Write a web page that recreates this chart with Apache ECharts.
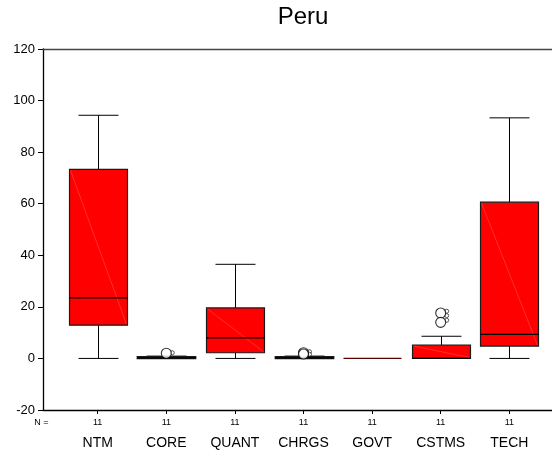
<!DOCTYPE html>
<html>
<head>
<meta charset="utf-8">
<script src="https://cdn.jsdelivr.net/npm/echarts@6/dist/echarts.min.js"></script>
<style>html,body{margin:0;padding:0;background:#fff}#c{width:552px;height:456px}</style>
</head>
<body>
<div id="c"></div>
<script>
const categories = ['NTM', 'CORE', 'QUANT', 'CHRGS', 'GOVT', 'CSTMS', 'TECH'];
const counts = [11, 11, 11, 11, 11, 11, 11];
// [min, Q1, median, Q3, max]
const boxStats = [
  [0, 12.9, 23.5, 73.3, 94.3],
  [0, 0, 0.2, 0.6, 0.9],
  [0, 2.2, 8.0, 19.6, 36.5],
  [0, 0, 0.2, 0.6, 0.9],
  [0, 0, 0, 0, 0],
  [0, 0, 0, 5.2, 8.6],
  [0, 4.8, 9.3, 60.6, 93.3]
];
// outliers: [category index, value]
const outliers = [[1, 2.0], [3, 2.2], [3, 1.7], [5, 17.6], [5, 14.0]];
// case-label marks beside outliers
const caseMarks = [[1, 2.2], [3, 2.6], [3, 1.6], [5, 18.3], [5, 16.6], [5, 14.8]];
const yTicks = {min: -20, max: 120, interval: 20};

const FONT = 'Liberation Sans, Arial, sans-serif';
const chart = echarts.init(document.getElementById('c'), null, {renderer: 'canvas'});

const boxData = boxStats.map((s, i) => [i].concat(s));

function renderBox(params, api) {
  const x = api.value(0);
  const band = api.size([1, 0])[0];
  const bw = band * 0.845, cw = band * 0.583;
  const pMin = api.coord([x, api.value(1)]);
  const pQ1 = api.coord([x, api.value(2)]);
  const pMed = api.coord([x, api.value(3)]);
  const pQ3 = api.coord([x, api.value(4)]);
  const pMax = api.coord([x, api.value(5)]);
  const cx = Math.round(pMed[0]) + 0.5;
  const lw = {stroke: '#000', lineWidth: 1};
  const children = [];
  if (pMax[1] < pQ3[1] - 0.5) {
    children.push({type: 'line', shape: {x1: cx, y1: pMax[1], x2: cx, y2: pQ3[1]}, style: lw});
    children.push({type: 'line', shape: {x1: cx - cw / 2, y1: pMax[1], x2: cx + cw / 2, y2: pMax[1]}, style: lw});
  }
  if (pMin[1] > pQ1[1] + 0.5) {
    children.push({type: 'line', shape: {x1: cx, y1: pQ1[1], x2: cx, y2: pMin[1]}, style: lw});
    children.push({type: 'line', shape: {x1: cx - cw / 2, y1: pMin[1], x2: cx + cw / 2, y2: pMin[1]}, style: lw});
  }
  const h = pQ1[1] - pQ3[1];
  if (h < 0.5) {
    children.push({type: 'line', shape: {x1: cx - bw / 2, y1: pQ1[1], x2: cx + bw / 2, y2: pQ1[1]}, style: {stroke: '#5a0000', lineWidth: 1.2}});
  } else {
    children.push({type: 'rect', shape: {x: cx - bw / 2, y: pQ3[1], width: bw, height: h},
      style: {fill: '#ff0000', stroke: '#1a1a1a', lineWidth: h < 4 ? 1.8 : 1.2}});
    if (h > 6) {
      children.push({type: 'line', shape: {x1: cx - bw / 2 + 1, y1: pQ3[1] + 1, x2: cx + bw / 2 - 1, y2: pQ1[1] - 1},
        style: {stroke: '#ff5a5a', lineWidth: 0.5}});
    }
    children.push({type: 'line', shape: {x1: cx - bw / 2, y1: pMed[1], x2: cx + bw / 2, y2: pMed[1]}, style: {stroke: '#000', lineWidth: 1.2}});
  }
  return {type: 'group', children: children};
}

const option = {
  animation: false,
  backgroundColor: '#fff',
  textStyle: {fontFamily: FONT},
  grid: [
    {left: 43, right: 0, top: 49, bottom: 46, containLabel: false},
    {left: 63.4, right: 8.4, top: 49, bottom: 46, containLabel: false}
  ],
  xAxis: [
    {gridIndex: 0, type: 'value', min: 0, max: 1, position: 'bottom',
      axisLine: {show: true, onZero: false, lineStyle: {color: '#000', width: 1.3}},
      axisTick: {show: false}, axisLabel: {show: false}, splitLine: {show: false}},
    {gridIndex: 0, type: 'value', min: 0, max: 1, position: 'top',
      axisLine: {show: true, onZero: false, lineStyle: {color: '#444', width: 1.3}},
      axisTick: {show: false}, axisLabel: {show: false}, splitLine: {show: false}},
    {gridIndex: 1, type: 'category', data: categories, boundaryGap: true, position: 'bottom',
      axisLine: {show: false, onZero: false},
      axisTick: {show: true, alignWithLabel: true, length: 4, lineStyle: {color: '#000'}},
      axisLabel: {
        margin: 7, interval: 0,
        formatter: (v, i) => '{n|' + counts[i] + '}\n{c|' + v + '}',
        rich: {
          n: {fontSize: 9, lineHeight: 12, color: '#000', fontFamily: FONT, align: 'center'},
          c: {fontSize: 14, lineHeight: 28, color: '#000', fontFamily: FONT, align: 'center'}
        }
      },
      splitLine: {show: false}}
  ],
  yAxis: [
    {gridIndex: 0, type: 'value', min: yTicks.min, max: yTicks.max, interval: yTicks.interval,
      axisLine: {show: true, onZero: false, lineStyle: {color: '#000', width: 1.3}},
      axisTick: {show: true, length: 5, lineStyle: {color: '#000'}},
      axisLabel: {margin: 8, fontSize: 13, color: '#000', fontFamily: FONT},
      splitLine: {show: false}},
    {gridIndex: 1, type: 'value', min: yTicks.min, max: yTicks.max, interval: yTicks.interval,
      show: false, splitLine: {show: false}}
  ],
  graphic: [
    {type: 'text', x: 303, y: 17.5,
      style: {text: 'Peru', font: '24px ' + FONT, fill: '#000', textAlign: 'center', textVerticalAlign: 'middle'}},
    {type: 'text', x: 41.5, y: 423,
      style: {text: 'N =', font: '9px ' + FONT, fill: '#000', textAlign: 'center', textVerticalAlign: 'middle'}}
  ],
  series: [
    {type: 'custom', xAxisIndex: 2, yAxisIndex: 1, data: boxData,
      encode: {x: 0, y: [1, 2, 3, 4, 5]}, renderItem: renderBox, z: 2},
    {type: 'scatter', xAxisIndex: 2, yAxisIndex: 1, data: caseMarks, symbol: 'circle', symbolSize: 4,
      symbolOffset: [6, 0],
      itemStyle: {color: '#fff', borderColor: '#000', borderWidth: 0.8}, z: 3},
    {type: 'scatter', xAxisIndex: 2, yAxisIndex: 1, data: outliers, symbol: 'circle', symbolSize: 10,
      itemStyle: {color: '#fff', borderColor: '#000', borderWidth: 1.1}, z: 4}
  ]
};
chart.setOption(option);
</script>
</body>
</html>
